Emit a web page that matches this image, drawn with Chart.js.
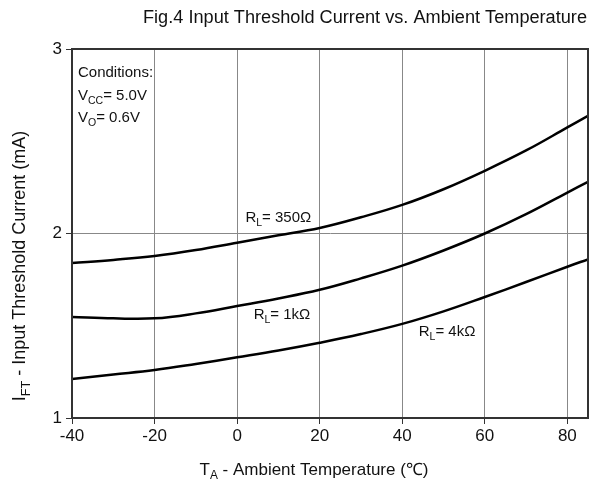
<!DOCTYPE html>
<html>
<head>
<meta charset="utf-8">
<script src="https://cdn.jsdelivr.net/npm/chart.js@4/dist/chart.umd.min.js"></script>
<style>body{margin:0;background:#fff}</style>
</head>
<body>
<canvas id="grafico" width="602" height="491"></canvas>
<script>
// valores
const temps = [-40, -30, -20, -10, 0, 10, 20, 30, 40, 50, 60, 70, 80, 85];
const rl350 = [1.84, 1.857, 1.878, 1.91, 1.95, 1.99, 2.03, 2.088, 2.155, 2.24, 2.34, 2.45, 2.575, 2.638];
const rl1k = [1.547, 1.54, 1.54, 1.567, 1.607, 1.648, 1.695, 1.757, 1.826, 1.908, 2.00, 2.105, 2.222, 2.28];
const rl4k = [1.212, 1.236, 1.26, 1.293, 1.329, 1.366, 1.408, 1.455, 1.51, 1.578, 1.656, 1.737, 1.82, 1.86];
const xTicks = [-40, -20, 0, 20, 40, 60, 80];
const yTicks = [1, 2, 3];

// etiquetas de curvas: [texto, subindice, resto, x, y]
const etiquetas = [
  ["R", "L", "= 350\u03A9", 2, 2.085],
  ["R", "L", "= 1k\u03A9", 4, 1.56],
  ["R", "L", "= 4k\u03A9", 44, 1.466]
];

const FONT = "'Liberation Sans', Arial, sans-serif";

function serie(vals) {
  return temps.map((t, i) => ({ x: t, y: vals[i] }));
}

// dibuja texto con subindice
function textoSub(ctx, parts, x, y, size) {
  let cx = x;
  parts.forEach(p => {
    const s = p.sub ? size * 0.7 : size;
    ctx.font = s + "px " + FONT;
    ctx.fillText(p.t, cx, p.sub ? y + size * 0.35 : y);
    cx += ctx.measureText(p.t).width;
  });
  return cx - x;
}
function anchoSub(ctx, parts, size) {
  let w = 0;
  parts.forEach(p => {
    ctx.font = (p.sub ? size * 0.7 : size) + "px " + FONT;
    w += ctx.measureText(p.t).width;
  });
  return w;
}

const decoracion = {
  id: "decoracion",
  afterDraw(chart) {
    const ctx = chart.ctx;
    const a = chart.chartArea;
    const xs = chart.scales.x, ys = chart.scales.y;
    ctx.save();
    // marco
    ctx.strokeStyle = "#333";
    ctx.lineWidth = 2;
    ctx.strokeRect(a.left, a.top, a.right - a.left, a.bottom - a.top);

    ctx.fillStyle = "#111";
    ctx.textBaseline = "middle";

    // titulo (estrecho)
    const titulo = "Fig.4 Input Threshold Current vs. Ambient Temperature";
    ctx.font = "18px " + FONT;
    const tw = ctx.measureText(titulo).width;
    ctx.save();
    ctx.translate(143, 18);
    ctx.scale(444 / tw, 1);
    ctx.textAlign = "left";
    ctx.fillText(titulo, 0, 0);
    ctx.restore();

    // condiciones
    ctx.textAlign = "left";
    ctx.font = "15px " + FONT;
    ctx.fillText("Conditions:", 78, 73);
    textoSub(ctx, [{ t: "V" }, { t: "CC", sub: true }, { t: "= 5.0V" }], 78, 96, 15);
    textoSub(ctx, [{ t: "V" }, { t: "O", sub: true }, { t: "= 0.6V" }], 78, 118, 15);

    // etiquetas de curvas
    etiquetas.forEach(e => {
      textoSub(ctx, [{ t: e[0] }, { t: e[1], sub: true }, { t: e[2] }],
        xs.getPixelForValue(e[3]), ys.getPixelForValue(e[4]), 15);
    });

    // titulo eje x
    const px = [{ t: "T" }, { t: "A", sub: true }, { t: " - Ambient Temperature (\u2103)" }];
    const wx = anchoSub(ctx, px, 17);
    textoSub(ctx, px, 314 - wx / 2, 470, 17);

    // titulo eje y
    const py = [{ t: "I" }, { t: "FT", sub: true }, { t: " - Input Threshold Current (mA)" }];
    const wy = anchoSub(ctx, py, 18);
    ctx.translate(20, 266);
    ctx.rotate(-Math.PI / 2);
    textoSub(ctx, py, -wy / 2, 0, 18);
    ctx.restore();
  }
};

const linea = { borderColor: "#000", borderWidth: 2.5, pointRadius: 0, fill: false, tension: 0.4 };

new Chart(document.getElementById("grafico"), {
  type: "line",
  data: {
    datasets: [
      { ...linea, label: "350", data: serie(rl350) },
      { ...linea, label: "1k", data: serie(rl1k) },
      { ...linea, label: "4k", data: serie(rl4k) }
    ]
  },
  options: {
    responsive: false,
    animation: false,
    layout: { padding: { top: 49, right: 14, left: 0, bottom: 0 } },
    plugins: { legend: { display: false }, tooltip: { enabled: false } },
    scales: {
      x: {
        type: "linear", min: -40, max: 85,
        afterBuildTicks: s => { s.ticks = xTicks.map(v => ({ value: v })); },
        afterFit: s => { s.height = 491 - 418; },
        grid: {
          color: c => (c.tick && c.tick.value === -40) ? "rgba(0,0,0,0)" : "#888",
          tickColor: "#333", tickLength: 6, lineWidth: 1
        },
        border: { color: "#333", width: 2 },
        ticks: { color: "#111", font: { family: FONT, size: 17 }, padding: 2 }
      },
      y: {
        type: "linear", min: 1, max: 3,
        afterBuildTicks: s => { s.ticks = yTicks.map(v => ({ value: v })); },
        afterFit: s => { s.width = 72; },
        grid: {
          color: c => (c.tick && c.tick.value === 2) ? "#888" : "rgba(0,0,0,0)",
          tickColor: "#333", tickLength: 6, lineWidth: 1
        },
        border: { color: "#333", width: 2 },
        ticks: { color: "#111", font: { family: FONT, size: 17 }, padding: 4 }
      }
    }
  },
  plugins: [decoracion]
});
</script>
</body>
</html>
